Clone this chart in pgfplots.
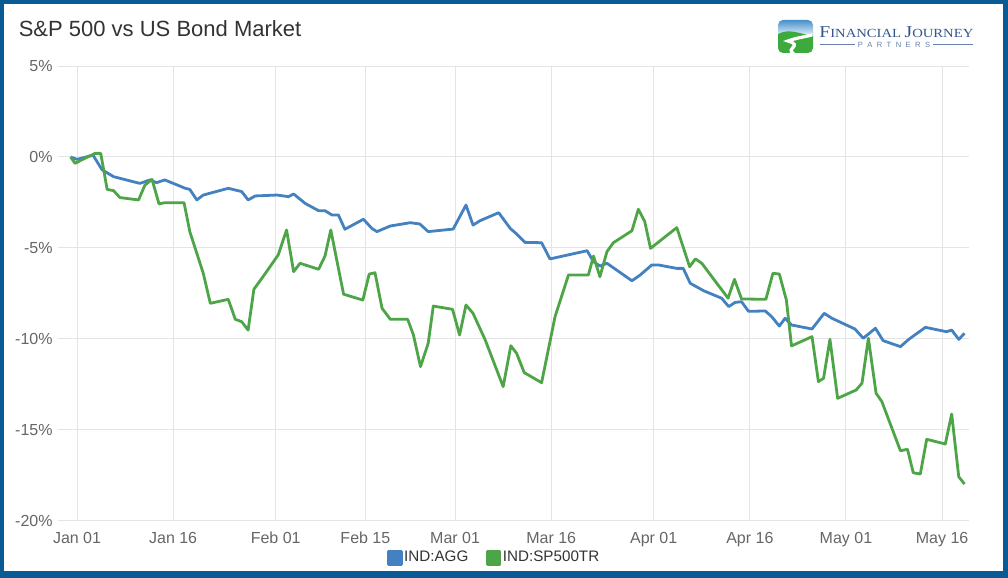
\documentclass[border=0pt]{standalone}
\usepackage{pgfplots}
\pgfplotsset{compat=1.18}
\usepackage{fontspec}
\setmainfont{Liberation Sans}
\newfontfamily\logofont{Liberation Serif}
\definecolor{frameblue}{RGB}{10,90,150}
\definecolor{aggblue}{RGB}{67,129,192}
\definecolor{spgreen}{RGB}{78,165,72}
\definecolor{gridgray}{RGB}{228,228,228}
\definecolor{tickgray}{RGB}{102,102,102}
\definecolor{titlegray}{RGB}{51,51,51}
\definecolor{logoblue}{RGB}{52,86,140}
\definecolor{skyblue}{RGB}{70,145,205}
\definecolor{logogreen}{RGB}{60,170,60}
\begin{document}
\begin{tikzpicture}
\path[use as bounding box] (0,0) rectangle (504pt,289pt);
\fill[frameblue] (0,0) rectangle (504pt,289pt);
\fill[white] (2pt,3.5pt) rectangle (501.5pt,287pt);
% title
\node[anchor=base west, font=\fontsize{11}{13}\selectfont, text=titlegray, inner sep=0pt] at (9.2pt,270.6pt) {S\&P 500 vs US Bond Market};
% logo icon
\begin{scope}
\clip[rounded corners=2.5pt] (389pt,262.5pt) rectangle (406.5pt,279pt);
\shade[top color=skyblue, bottom color=white] (389pt,270pt) rectangle (406.5pt,279pt);
\fill[logogreen] (389pt,262.5pt) -- (389pt,272pt) .. controls (395pt,275pt) and (400pt,272pt) .. (406.5pt,271pt) -- (406.5pt,262.5pt) -- cycle;
\draw[white, line width=1.6pt] (397pt,262pt) .. controls (392pt,265pt) and (402pt,266pt) .. (394pt,268.5pt) .. controls (398pt,270pt) and (402pt,270.5pt) .. (406pt,271.5pt);
\end{scope}
% logo text
\node[anchor=base west, inner sep=0pt, text=logoblue, xscale=1.18] at (409.5pt,270pt) {\logofont\fontsize{8.3}{9}\selectfont F\fontsize{6.2}{7}\selectfont INANCIAL \fontsize{8.3}{9}\selectfont J\fontsize{6.2}{7}\selectfont OURNEY};
\node[inner sep=0pt, text=logoblue!75, font=\fontsize{3.8}{4}\selectfont] at (447pt,266.6pt) {P\hspace{2.2pt}A\hspace{2.2pt}R\hspace{2.2pt}T\hspace{2.2pt}N\hspace{2.2pt}E\hspace{2.2pt}R\hspace{2.2pt}S};
\draw[logoblue!75, line width=0.4pt] (410pt,266.6pt) -- (427.5pt,266.6pt);
\draw[logoblue!75, line width=0.4pt] (466.5pt,266.6pt) -- (486.5pt,266.6pt);
\begin{axis}[
  at={(29pt,28.5pt)}, anchor=south west,
  scale only axis, width=455.5pt, height=227.5pt,
  xmin=-2.97, xmax=139.2, ymin=-20, ymax=5,
  xtick={0,15,31,45,59,74,90,105,120,135},
  xticklabels={Jan 01,Jan 16,Feb 01,Feb 15,Mar 01,Mar 16,Apr 01,Apr 16,May 01,May 16},
  ytick={-20,-15,-10,-5,0,5},
  yticklabels={-20\%,-15\%,-10\%,-5\%,0\%,5\%},
  xmajorgrids, ymajorgrids,
  major grid style={draw=gridgray, line width=0.5pt},
  axis line style={draw=none},
  major tick length=0pt,
  tick style={draw=none},
  ticklabel style={font=\fontsize{8}{9.6}\selectfont, text=tickgray, inner sep=0pt},
  xticklabel style={anchor=north, yshift=-5.5pt},
  yticklabel style={anchor=east, xshift=-2.5pt},
  legend style={at={(0.4786,-0.0813)}, anchor=center, draw=none, fill=none, legend columns=2, font=\fontsize{7.6}{9}\selectfont, text=titlegray, /tikz/every even column/.append style={column sep=8pt}, nodes={inner sep=0.8pt}},
  legend image code/.code={\fill[#1] (0pt,-3.15pt) rectangle (6.3pt,3.15pt);},
]
\addplot[aggblue, line width=1.4pt, line join=round] coordinates {
(-1,0) (0,-0.13) (2.5,0.1) (3.9,-0.7) (5.7,-1.08) (9.8,-1.45) (11.4,-1.26) (12.4,-1.41) (13.7,-1.26) (16.9,-1.72) (17.6,-1.78) (18.7,-2.36) (19.7,-2.09) (23.6,-1.72) (25.7,-1.9) (26.7,-2.36) (27.8,-2.14) (31.2,-2.09) (33.0,-2.18) (33.8,-2.03) (35.6,-2.55) (37.7,-2.95) (38.7,-2.95) (39.8,-3.19) (40.8,-3.19) (41.8,-3.97) (44.7,-3.42) (46.0,-3.92) (46.8,-4.1) (48.9,-3.79) (52.0,-3.61) (53.5,-3.68) (54.8,-4.1) (58.7,-3.96) (60.7,-2.64) (61.8,-3.74) (62.9,-3.5) (65.8,-3.06) (67.6,-3.92) (68.6,-4.23) (69.9,-4.69) (72.5,-4.71) (73.8,-5.6) (75.6,-5.46) (79.6,-5.15) (80.6,-5.75) (81.6,-5.99) (82.7,-5.84) (86.6,-6.8) (87.9,-6.48) (89.7,-5.93) (90.7,-5.93) (93.6,-6.12) (94.6,-6.12) (95.7,-6.94) (97.8,-7.35) (100.6,-7.76) (101.7,-8.22) (102.7,-7.99) (103.7,-7.95) (104.8,-8.48) (107.4,-8.46) (108.4,-8.77) (109.6,-9.29) (110.5,-8.86) (111.5,-9.23) (114.7,-9.45) (116.6,-8.59) (117.8,-8.86) (121.4,-9.45) (122.7,-9.96) (124.6,-9.41) (125.8,-10.09) (128.5,-10.42) (129.8,-10.02) (130.5,-9.84) (132.4,-9.36) (135.7,-9.6) (136.5,-9.51) (137.6,-10.02) (138.5,-9.69)
};
\addlegendentry{IND:AGG}
\addplot[spgreen, line width=1.4pt, line join=round] coordinates {
(-1,0) (-0.3,-0.35) (0.5,-0.2) (2.8,0.2) (3.7,0.2) (4.7,-1.78) (5.7,-1.85) (6.7,-2.23) (9.6,-2.36) (10.6,-1.54) (11.7,-1.23) (12.8,-2.58) (13.7,-2.51) (16.7,-2.51) (17.6,-4.1) (19.7,-6.39) (20.8,-8.04) (23.6,-7.82) (24.7,-8.92) (25.7,-9.05) (26.7,-9.51) (27.6,-7.27) (29.1,-6.54) (31.4,-5.38) (32.7,-4.01) (33.8,-6.3) (34.8,-5.84) (37.7,-6.17) (38.7,-5.44) (39.6,-4.01) (41.6,-7.54) (44.6,-7.86) (45.6,-6.43) (46.5,-6.36) (47.6,-8.31) (48.9,-8.92) (51.6,-8.92) (52.5,-9.78) (53.6,-11.52) (54.8,-10.24) (55.6,-8.19) (58.6,-8.37) (59.7,-9.78) (60.7,-8.13) (61.8,-8.59) (63.7,-10.05) (66.5,-12.62) (67.7,-10.37) (68.6,-10.79) (69.8,-11.85) (72.5,-12.4) (74.6,-8.77) (76.7,-6.48) (79.8,-6.48) (80.6,-5.44) (81.6,-6.58) (82.7,-5.2) (83.7,-4.71) (86.6,-4.05) (87.6,-2.87) (88.6,-3.55) (89.5,-5.02) (93.6,-3.88) (95.6,-6.03) (96.5,-5.6) (97.5,-5.84) (101.6,-7.76) (102.6,-6.72) (103.7,-7.8) (107.5,-7.82) (108.6,-6.39) (109.6,-6.43) (110.7,-7.86) (111.5,-10.38) (114.7,-9.87) (115.7,-12.34) (116.5,-12.16) (117.5,-10.02) (118.7,-13.26) (121.6,-12.8) (122.5,-12.43) (123.5,-9.96) (124.7,-12.98) (125.6,-13.44) (128.5,-16.14) (129.6,-16.06) (130.5,-17.35) (131.6,-17.42) (132.6,-15.51) (135.5,-15.77) (136.5,-14.12) (137.6,-17.57) (138.5,-17.97)
};
\addlegendentry{IND:SP500TR}
\end{axis}
\end{tikzpicture}
\end{document}
